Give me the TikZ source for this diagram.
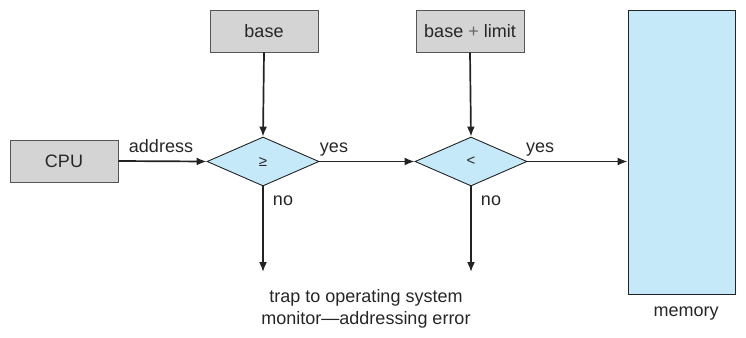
\documentclass[tikz,border=0pt]{standalone}
\usepackage{fontspec}
\setmainfont{Liberation Sans}
\usetikzlibrary{shapes.geometric,arrows.meta}
\definecolor{boxgray}{RGB}{212,212,212}
\definecolor{boxblue}{RGB}{198,233,249}
\definecolor{edgegray}{RGB}{85,85,85}
\definecolor{linedark}{RGB}{35,35,35}
\begin{document}
\begin{tikzpicture}[x=1pt,y=-1pt,
  every node/.style={font=\fontsize{18}{22}\selectfont, text=black!85},
  graybox/.style={draw=edgegray, fill=boxgray, line width=0.9pt, minimum width=108pt, minimum height=42pt, inner sep=0pt},
  testdiamond/.style={diamond, draw=linedark, fill=boxblue, line width=0.9pt, minimum width=112pt, minimum height=49pt, inner sep=0pt, aspect=2.29},
  flow/.style={draw=linedark, line width=1.7pt, -{Latex[length=10pt,width=8pt]}},
  lbl/.style={anchor=base, inner sep=0pt}
]
\useasboundingbox (0,0) rectangle (746,337);

\node[graybox] (cpu) at (64,161) {CPU};
\node[graybox] (base) at (264,31) {base};
\node[graybox] (limit) at (470,31) {base {\color{black!60}+} limit};
\node[testdiamond] (d1) at (263,161.5) {\fontsize{15}{18}\selectfont ≥};
\node[testdiamond] (d2) at (471,161.5) {\fontsize{15}{18}\selectfont <};
\node[draw=linedark, fill=boxblue, line width=0.9pt, minimum width=107pt, minimum height=284pt, inner sep=0pt] (mem) at (681.5,152) {};

\coordinate (t1) at (263,272);
\coordinate (t2) at (471,272);

\draw[flow] (base.south) -- (d1.north);
\draw[flow] (limit.south) -- (d2.north);
\draw[flow] (cpu.east) -- (d1.west);
\draw[flow] (d1.east) -- (d2.west);
\draw[flow] (d2.east) -- (d2.east -| mem.west);
\draw[flow] (d1.south) -- (t1);
\draw[flow] (d2.south) -- (t2);

\node[lbl] (laddr) at (161,152) {address};
\node[lbl] (lyes1) at (334,152) {yes};
\node[lbl] (lyes2) at (540,152) {yes};
\node[lbl] (lno1) at (283,205) {no};
\node[lbl] (lno2) at (491,205) {no};
\node[lbl] (lmem) at (686,316) {memory};
\node[align=center, inner sep=0pt] (trap) at (366,309) {trap to operating system\\monitor—addressing error};
\end{tikzpicture}
\end{document}
